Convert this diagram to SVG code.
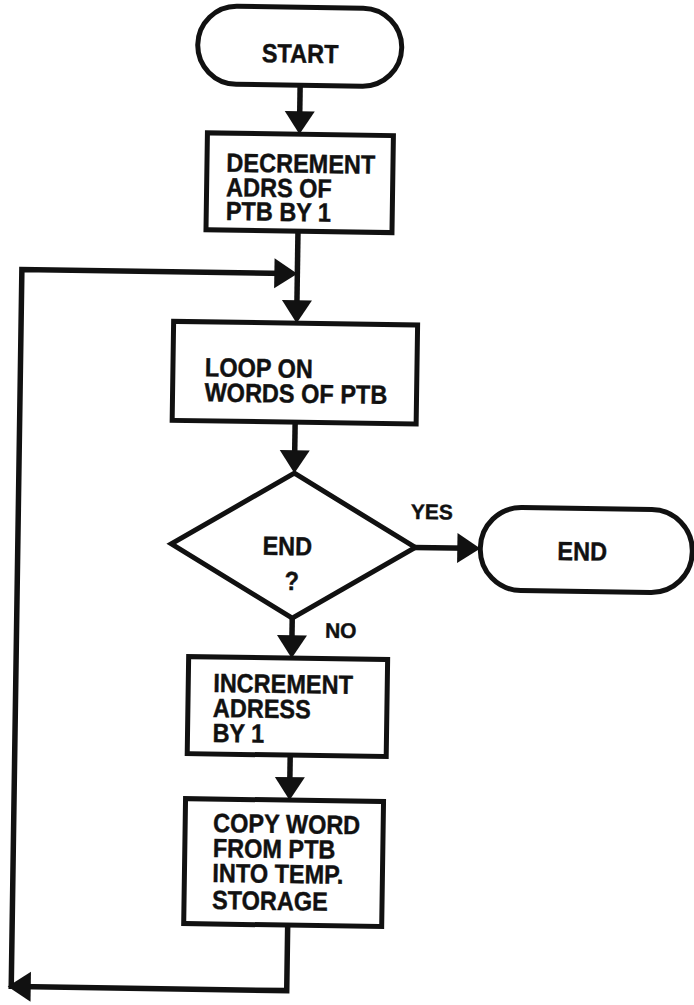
<svg xmlns="http://www.w3.org/2000/svg" width="694" height="1005" viewBox="0 0 694 1005">
  <defs>
    <style>
      .box{fill:#fff;stroke:#111;stroke-width:5;stroke-linejoin:miter}
      .edge{fill:none;stroke:#111;stroke-width:5.5;stroke-linejoin:miter;stroke-linecap:butt}
      .lbl{font-family:"Liberation Sans",Arial,Helvetica,sans-serif;font-weight:bold;font-size:23.5px;fill:#111;stroke:#111;stroke-width:0.4}
      .small{font-size:21px}
      .mid{text-anchor:middle}
    </style>
    <!-- solid triangular arrowhead, tip 10px beyond the line end -->
    <marker id="ah" markerUnits="userSpaceOnUse" markerWidth="23" markerHeight="30" viewBox="0 0 23 30" refX="13" refY="15" orient="auto" overflow="visible">
      <path d="M0,0 L23,15 L0,30 Z" fill="#111"/>
    </marker>
  </defs>

  <rect width="694" height="1005" fill="#fff"/>

  <!-- the whole sheet sits slightly skewed -->
  <g transform="rotate(0.85 350 500)">

    <g id="start">
      <rect class="box" x="191" y="8" width="204" height="78" rx="39" ry="39"/>
      <g transform="translate(293.5 63.5) scale(1 1.12)">
        <text class="lbl mid" x="0" y="0">START</text>
      </g>
    </g>

    <g id="decrement">
      <rect class="box" x="202" y="135" width="186" height="97"/>
      <g transform="translate(221.5 173.5) scale(1 1.12)">
        <text class="lbl"><tspan x="0" y="0">DECREMENT</tspan><tspan x="0" y="21.9">ADRS OF</tspan><tspan x="0" y="43.3">PTB BY 1</tspan></text>
      </g>
    </g>

    <g id="loop">
      <rect class="box" x="171" y="324" width="244" height="99"/>
      <g transform="translate(203 378.5) scale(1 1.12)">
        <text class="lbl"><tspan x="0" y="0">LOOP ON</tspan><tspan x="0" y="22.3">WORDS OF PTB</tspan></text>
      </g>
    </g>

    <g id="decision">
      <polygon class="box" points="294,474 416,546.5 294,619 172,546.5"/>
      <g transform="translate(290 556) scale(1 1.12)">
        <text class="lbl mid"><tspan x="-2" y="0">END</tspan><tspan x="3" y="31.25">?</tspan></text>
      </g>
    </g>

    <g id="end">
      <rect class="box" x="481" y="505" width="212" height="83" rx="41" ry="41"/>
      <g transform="translate(583 557) scale(1 1.12)">
        <text class="lbl mid" x="0" y="0">END</text>
      </g>
    </g>

    <g id="increment">
      <rect class="box" x="191" y="659" width="199" height="97"/>
      <g transform="translate(216 694) scale(1 1.12)">
        <text class="lbl"><tspan x="0" y="0">INCREMENT</tspan><tspan x="0" y="22.3">ADRESS</tspan><tspan x="0" y="44.6">BY 1</tspan></text>
      </g>
    </g>

    <g id="copy">
      <rect class="box" x="190" y="801" width="198" height="125"/>
      <g transform="translate(218 834) scale(1 1.12)">
        <text class="lbl"><tspan x="0" y="0">COPY WORD</tspan><tspan x="0" y="22.3">FROM PTB</tspan><tspan x="0" y="44.6">INTO TEMP.</tspan><tspan x="0" y="68.75">STORAGE</tspan></text>
      </g>
    </g>

    <g id="connectors">
      <path class="edge" d="M294,86 V125" marker-end="url(#ah)"/>
      <path class="edge" d="M294,232 V314" marker-end="url(#ah)"/>
      <path class="edge" d="M18.5,994 V274.5 H284" marker-end="url(#ah)"/>
      <path class="edge" d="M294,423 V464" marker-end="url(#ah)"/>
      <path class="edge" d="M415,546.5 H471" marker-end="url(#ah)"/>
      <path class="edge" d="M294,619 V649" marker-end="url(#ah)"/>
      <path class="edge" d="M294,756 V791" marker-end="url(#ah)"/>
      <path class="edge" d="M294,926 V991.5 H25" marker-end="url(#ah)"/>
      <text class="lbl small" x="411" y="518">YES</text>
      <text class="lbl small" x="327" y="638">NO</text>
    </g>
  </g>
</svg>
